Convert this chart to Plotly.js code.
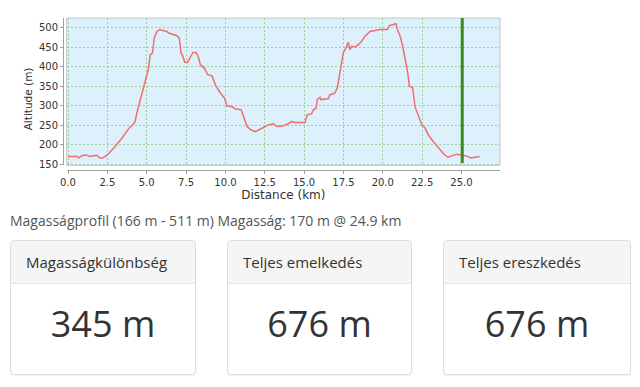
<!DOCTYPE html>
<html>
<head>
<meta charset="utf-8">
<script src="https://cdn.plot.ly/plotly-3.0.1.min.js"></script>
<style>
  html, body { margin:0; padding:0; background:#fff; width:640px; height:387px; overflow:hidden; font-family:"Open Sans", sans-serif; }
  #chart { position:absolute; left:0; top:0; width:640px; height:205px; }
  #info { position:absolute; left:10px; top:211px; font-size:14px; color:#555; white-space:nowrap; }
  .card { position:absolute; top:240px; height:135px; border:1px solid #ddd; border-radius:4px; background:#fff; box-shadow:0 1px 1px rgba(0,0,0,0.05); overflow:hidden; box-sizing:border-box; }
  .card .hd { height:42px; background:#f5f5f5; border-bottom:1px solid #e6e6e6; padding-left:15px; font-size:15px; line-height:43px; color:#333; white-space:nowrap; }
  .card .bd { text-align:center; font-size:36px; color:#333; line-height:40px; padding-top:20px; }
</style>
</head>
<body>
<div id="chart"></div>
<div id="info"></div>
<div id="cards"></div>
<script>
// Elevation profile (distance km, altitude m)
const distanceKm = [0, 0.6, 0.68, 0.87, 1.15, 1.36, 1.61, 1.83, 2.04, 2.2, 2.5, 2.89, 3.42, 3.74, 3.9, 4.06, 4.27, 4.37, 4.54, 4.76, 4.97, 5.12, 5.22, 5.37, 5.48, 5.65, 5.82, 6.07, 6.28, 6.39, 6.6, 6.92, 7.07, 7.18, 7.3, 7.41, 7.6, 7.73, 7.94, 8.15, 8.3, 8.41, 8.66, 8.87, 9.15, 9.36, 9.68, 9.94, 10.1, 10.42, 10.64, 11.0, 11.17, 11.38, 11.64, 11.91, 12.2, 12.5, 12.73, 13.05, 13.26, 13.68, 14.0, 14.21, 14.42, 15.06, 15.2, 15.48, 15.59, 15.76, 15.84, 16.01, 16.07, 16.22, 16.54, 16.64, 16.96, 17.11, 17.24, 17.39, 17.49, 17.66, 17.81, 17.92, 18.02, 18.24, 18.45, 18.66, 18.87, 19.19, 19.5, 19.82, 20.29, 20.42, 20.67, 20.84, 20.93, 21.1, 21.27, 21.42, 21.59, 21.69, 21.89, 22.05, 22.26, 22.48, 22.69, 22.9, 23.22, 23.54, 23.86, 24.13, 24.39, 24.71, 25.02, 25.34, 25.6, 25.88, 26.15];
const altitudeM = [170, 170, 166, 172, 174, 170, 172, 173, 166, 166, 174, 191, 217, 234, 244, 249, 260, 281, 307, 341, 376, 397, 431, 436, 474, 491, 496, 494, 491, 487, 485, 480, 474, 436, 427, 412, 412, 423, 437, 437, 423, 406, 397, 380, 377, 354, 333, 320, 300, 298, 292, 290, 273, 247, 238, 234, 240, 247, 251, 254, 247, 249, 254, 260, 257, 257, 277, 280, 290, 294, 316, 322, 316, 317, 318, 328, 333, 346, 376, 406, 436, 449, 463, 444, 453, 451, 457, 466, 479, 491, 494, 496, 496, 506, 509, 511, 496, 479, 453, 419, 384, 350, 348, 298, 273, 251, 243, 225, 208, 191, 177, 168, 171, 176, 174, 171, 166, 168, 170];
const markerKm = 25.05;
const xTickValues = [0, 2.5, 5, 7.5, 10, 12.5, 15, 17.5, 20, 22.5, 25];
const yTickValues = [150, 200, 250, 300, 350, 400, 450, 500];
const xTitle = "Distance (km)";
const yTitle = "Altitude (m)";
const infoText = "Magasságprofil (166 m - 511 m) Magasság: 170 m @ 24.9 km";
const cardTitles = ["Magasságkülönbség", "Teljes emelkedés", "Teljes ereszkedés"];
const cardValues = ["345 m", "676 m", "676 m"];

const tickFont = {family: "DejaVu Sans", size: 10, color: "#333"};
const layout = {
  width: 640, height: 205,
  margin: {l: 63, r: 140, t: 18, b: 35, pad: 0},
  paper_bgcolor: "rgba(0,0,0,0)",
  plot_bgcolor: "#dcf1fb",
  showlegend: false,
  xaxis: {
    domain: [0.0085, 1], anchor: "free", position: 0,
    range: [-0.083, 27.45],
    tickvals: xTickValues, ticktext: xTickValues.map(v => v.toFixed(1)),
    showgrid: true, gridcolor: "#9ccf9c", griddash: "2px,2px", gridwidth: 1,
    zeroline: false, showline: true, linecolor: "#a0a0a0", linewidth: 1,
    ticks: "outside", ticklen: 3, tickcolor: "#a0a0a0",
    tickfont: tickFont,
    title: {text: xTitle, font: {family: "DejaVu Sans", size: 12, color: "#333"}, standoff: 2}
  },
  yaxis: {
    domain: [0.031, 1], anchor: "free", position: 0,
    range: [147.4, 525.6],
    tickvals: yTickValues,
    showgrid: true, gridcolor: "#9ccf9c", griddash: "2px,2px", gridwidth: 1,
    zeroline: false, showline: true, linecolor: "#a0a0a0", linewidth: 1,
    ticks: "outside", ticklen: 3, tickcolor: "#a0a0a0",
    tickfont: tickFont
  },
  annotations: [
    {text: yTitle, xref: "paper", yref: "paper", x: -0.0806, y: 0.47, xanchor: "center", yanchor: "middle",
     textangle: -90, showarrow: false, font: {family: "DejaVu Sans", size: 10.5, color: "#333"}}
  ],
  shapes: [
    {type: "rect", xref: "x domain", yref: "y domain", x0: 0, x1: 1, y0: 0, y1: 1,
     line: {color: "#c4c4c4", width: 1}, fillcolor: "rgba(0,0,0,0)", layer: "above"},
    {type: "line", xref: "x", yref: "y domain", x0: markerKm, x1: markerKm, y0: 0.015, y1: 1,
     line: {color: "#3d8b1e", width: 3}, layer: "above"}
  ]
};
const traces = [{
  type: "scatter", mode: "lines", x: distanceKm, y: altitudeM,
  line: {color: "#ef6f6f", width: 1.5}, hoverinfo: "skip"
}];
Plotly.newPlot("chart", traces, layout, {staticPlot: true, displayModeBar: false});

document.getElementById("info").textContent = infoText;
const lefts = [10, 227, 443];
const widths = [186, 185, 188];
const cards = document.getElementById("cards");
cardTitles.forEach((t, i) => {
  const c = document.createElement("div");
  c.className = "card";
  c.style.left = lefts[i] + "px";
  c.style.width = widths[i] + "px";
  const h = document.createElement("div"); h.className = "hd"; h.textContent = t;
  const b = document.createElement("div"); b.className = "bd"; b.textContent = cardValues[i];
  c.appendChild(h); c.appendChild(b); cards.appendChild(c);
});
</script>
</body>
</html>
